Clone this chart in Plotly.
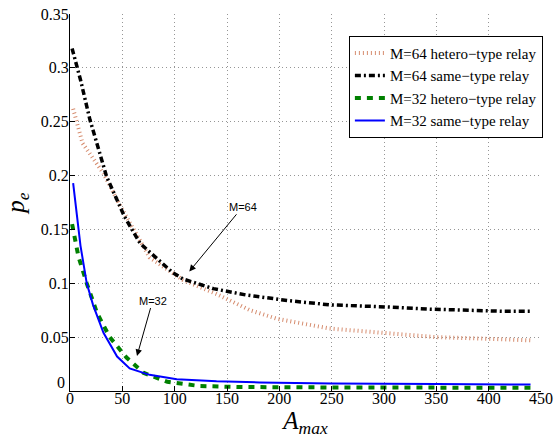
import plotly.graph_objects as go

# ---- data ----
x_het64 = [3, 12, 32, 48, 76, 108, 140, 172, 198, 248, 299, 350, 414, 440]
y_het64 = [0.262, 0.230, 0.202, 0.172, 0.124, 0.103, 0.090, 0.075, 0.067, 0.058, 0.054, 0.050, 0.048, 0.047]

x_same64 = [2, 10, 19, 35, 52, 67, 98, 108, 137, 169, 208, 248, 303, 344, 414, 440]
y_same64 = [0.318, 0.289, 0.252, 0.199, 0.162, 0.137, 0.110, 0.104, 0.095, 0.089, 0.084, 0.080, 0.078, 0.076, 0.074, 0.074]

x_het32 = [2, 8, 16, 26, 38, 54, 70, 93, 124, 162, 250, 350, 440]
y_het32 = [0.155, 0.125, 0.100, 0.072, 0.050, 0.031, 0.017, 0.0085, 0.0046, 0.0037, 0.0033, 0.003, 0.003]

x_same32 = [3, 5, 10, 16, 22, 32, 45, 57, 76, 102, 140, 181, 250, 350, 440]
y_same32 = [0.193, 0.177, 0.135, 0.100, 0.080, 0.054, 0.032, 0.021, 0.015, 0.011, 0.009, 0.008, 0.007, 0.0065, 0.006]

names = ["M=64 hetero\u2212type relay", "M=64 same\u2212type relay",
         "M=32 hetero\u2212type relay", "M=32 same\u2212type relay"]

x_ticks = [0, 50, 100, 150, 200, 250, 300, 350, 400, 450]
y_ticks = [0, 0.05, 0.1, 0.15, 0.2, 0.25, 0.3, 0.35]

# annotation anchors: text position and arrow tip
ann_labels = ["M=64", "M=32"]
ann_text_x = [165, 79]
ann_text_y = [0.171, 0.084]
ann_tip_x = [114, 64]
ann_tip_y = [0.111, 0.0325]

SERIF = "Liberation Serif"

fig = go.Figure()
fig.add_trace(go.Scatter(x=x_het64, y=y_het64, mode="lines", name=names[0],
                         line=dict(color="rgb(214,140,110)", width=4, dash="1px,3px")))
fig.add_trace(go.Scatter(x=x_same64, y=y_same64, mode="lines", name=names[1],
                         line=dict(color="black", width=3.5, dash="6px,3px,2px,3px")))
fig.add_trace(go.Scatter(x=x_het32, y=y_het32, mode="lines", name=names[2],
                         line=dict(color="rgb(0,128,0)", width=4, dash="6px,6px")))
fig.add_trace(go.Scatter(x=x_same32, y=y_same32, mode="lines", name=names[3],
                         line=dict(color="rgb(0,0,255)", width=2)))

for lab, tx, ty, px, py in zip(ann_labels, ann_text_x, ann_text_y, ann_tip_x, ann_tip_y):
    fig.add_annotation(x=px, y=py, ax=tx, ay=ty, axref="x", ayref="y", xref="x", yref="y",
                       text=lab, showarrow=True, arrowhead=2, arrowsize=1.3, arrowwidth=1,
                       arrowcolor="black", font=dict(family="Liberation Sans", size=11, color="black"))

# the y-axis "0" label sits slightly raised in the reference
y_tick_text = [f"{v:g}" for v in y_ticks]
fig.add_annotation(xref="paper", x=0, xanchor="right", xshift=-3,
                   yref="y", y=y_ticks[0], yanchor="middle", yshift=9,
                   text=y_tick_text[0], showarrow=False,
                   font=dict(family=SERIF, size=16, color="black"))
y_tick_text[0] = ""

fig.update_layout(
    width=560, height=439,
    margin=dict(l=70, r=19, t=14, b=48, autoexpand=False),
    paper_bgcolor="white", plot_bgcolor="white",
    font=dict(family=SERIF, size=15, color="black"),
    showlegend=True,
    legend=dict(x=1.004, y=0.942, xanchor="right", yanchor="top",
                bordercolor="black", borderwidth=1, bgcolor="white",
                font=dict(family=SERIF, size=15, color="black"),
                itemwidth=30, tracegroupgap=0),
)
fig.update_xaxes(range=[0, 450], tickvals=x_ticks, ticktext=[str(v) for v in x_ticks],
                 showline=True, linecolor="black", linewidth=1, ticks="inside", ticklen=5,
                 tickcolor="black", showgrid=True, gridcolor="rgb(150,150,150)", griddash="1px,3px",
                 gridwidth=1, zeroline=False, automargin=False, tickfont=dict(family=SERIF, size=16),
                 ticklabelstandoff=-7,
                 title=dict(text="<i>A</i><sub><i>max</i></sub>", font=dict(family=SERIF, size=25), standoff=2))
fig.update_yaxes(range=[0, 0.35], tickvals=y_ticks, ticktext=y_tick_text,
                 showline=True, linecolor="black", linewidth=1, ticks="inside", ticklen=5,
                 tickcolor="black", showgrid=True, gridcolor="rgb(150,150,150)", griddash="1px,3px",
                 gridwidth=1, zeroline=False, automargin=False, tickfont=dict(family=SERIF, size=16),
                 ticklabelstandoff=-3,
                 title=dict(text="<i>p</i><sub><i>e</i></sub>", font=dict(family=SERIF, size=25), standoff=9))

fig.write_html("out.html")
